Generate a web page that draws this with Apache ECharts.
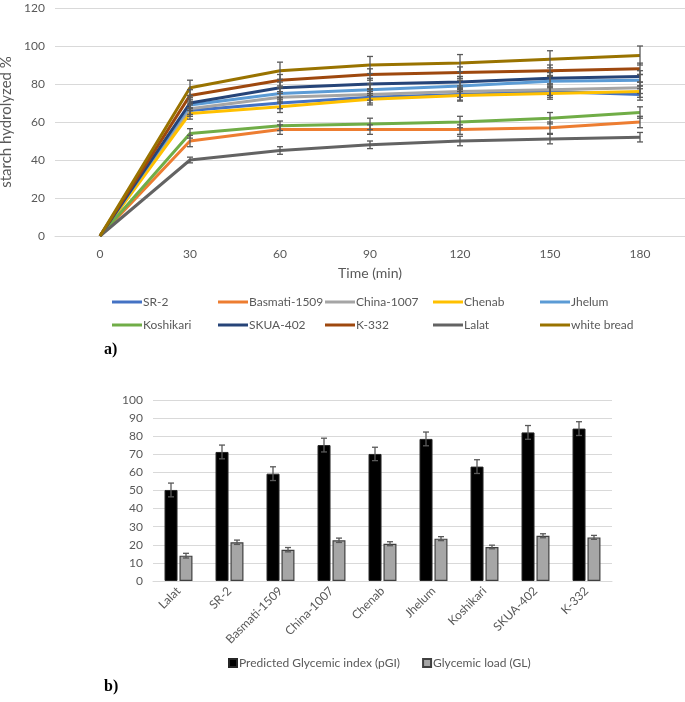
<!DOCTYPE html>
<html><head><meta charset="utf-8">
<script src="https://cdn.jsdelivr.net/npm/echarts@6/dist/echarts.min.js"></script>
<style>html,body{margin:0;padding:0;background:#fff}#c{width:685px;height:702px}</style>
</head><body><div id="c"></div><script>
// ---- Chart a) data ----
const timeLabels = ['0','30','60','90','120','150','180'];
const seriesNames = ['SR-2','Basmati-1509','China-1007','Chenab','Jhelum','Koshikari','SKUA-402','K-332','Lalat','white bread'];
const sr2        = [0,66,70,73,74.5,76,74.5];
const basmati    = [0,50,56,56,56,57,60];
const china      = [0,67,73,74.5,76,77,78];
const chenab     = [0,64.5,68,72,74,75,76];
const jhelum     = [0,69,75,77,79,81.5,82];
const koshikari  = [0,54,58,59,60,62,65];
const skua       = [0,70,78,80,81,83,84];
const k332       = [0,74,82,85,86,87,88];
const lalat      = [0,40,45,48,50,51,52];
const whiteBread = [0,78,87,90,91,93,95];
const sr2Err        = [0,3,3,3,3,3,3];
const basmatiErr    = [0,3,2.5,2.5,2.5,3,3];
const chinaErr      = [0,3,3,3,3,3,3];
const chenabErr     = [0,3,3,3,3,3,3];
const jhelumErr     = [0,3,3,3,3,3,3];
const koshikariErr  = [0,2.5,2.5,3,3,3,3];
const skuaErr       = [0,3,3,3,3,3,3];
const k332Err       = [0,3,3,3,3,3,3];
const lalatErr      = [0,1.5,2,2,2.5,2.5,2.5];
const whiteBreadErr = [0,4,4.5,4.5,4.5,4.5,5];

// ---- Chart b) data ----
const varieties = ['Lalat','SR-2','Basmati-1509','China-1007','Chenab','Jhelum','Koshikari','SKUA-402','K-332'];
const pGI    = [50.3,71.3,59.3,75.1,70.2,78.5,63.2,82.1,84.2];
const pGIErr = [3.8,3.8,3.8,3.8,3.7,3.8,3.8,3.8,3.8];
const GL     = [14,21.4,17.3,22.5,20.6,23.4,18.8,25,24.1];
const GLErr  = [1.3,1.2,1.2,1.2,1.1,1.1,1.0,1.1,1.1];
const barNames = ['Predicted Glycemic index (pGI)','Glycemic load (GL)'];

const lineValues = [sr2,basmati,china,chenab,jhelum,koshikari,skua,k332,lalat,whiteBread];
const lineErrs = [sr2Err,basmatiErr,chinaErr,chenabErr,jhelumErr,koshikariErr,skuaErr,k332Err,lalatErr,whiteBreadErr];
const colors = ['#4472C4','#ED7D31','#A5A5A5','#FFC000','#5B9BD5','#70AD47','#264478','#9E480E','#636363','#997300'];
const FONT = 'Lato';
const TXT = '#595959';

function errRender(offset, cap, color, width){
  return function(params, api){
    const lo = api.coord([api.value(0), api.value(1)]);
    const hi = api.coord([api.value(0), api.value(2)]);
    if (Math.abs(lo[1]-hi[1]) < 0.5) return {type:'group', children:[]};
    const cx = lo[0] + offset;
    const st = {stroke:color, lineWidth:width};
    return {type:'group', children:[
      {type:'line', shape:{x1:cx,y1:lo[1],x2:cx,y2:hi[1]}, style:st},
      {type:'line', shape:{x1:cx-cap,y1:lo[1],x2:cx+cap,y2:lo[1]}, style:st},
      {type:'line', shape:{x1:cx-cap,y1:hi[1],x2:cx+cap,y2:hi[1]}, style:st}
    ]};
  };
}

const series = [];
const legends = [];
const colX = [112,218,325,433,540];
seriesNames.forEach((n,i)=>{
  series.push({name:n, type:'line', xAxisIndex:0, yAxisIndex:0, data:lineValues[i],
    symbol:'none', lineStyle:{width:3, color:colors[i]}, itemStyle:{color:colors[i]}, z:2+i});
  legends.push({data:[n], left:colX[i%5], top: i<5 ? 296 : 319, itemWidth:30, itemHeight:3,
    icon:'rect', itemGap:0, padding:0, textStyle:{fontFamily:FONT, fontSize:12, color:TXT, padding:[0,0,0,-4]}});
});
seriesNames.forEach((n,i)=>{
  series.push({type:'custom', xAxisIndex:0, yAxisIndex:0, z:20,
    renderItem: errRender(0, 3, '#595959', 1.3),
    encode:{x:0, y:[1,2]},
    data: lineValues[i].map((v,j)=>[j, v-lineErrs[i][j], v+lineErrs[i][j]])});
});
series.push({name:barNames[0], type:'bar', xAxisIndex:1, yAxisIndex:1, data:pGI, barWidth:13, barGap:'15%',
  itemStyle:{color:'#000', borderColor:'#262626', borderWidth:1}});
series.push({name:barNames[1], type:'bar', xAxisIndex:1, yAxisIndex:1, data:GL, barWidth:13,
  itemStyle:{color:'#A6A6A6', borderColor:'#404040', borderWidth:1.2}});
series.push({type:'custom', xAxisIndex:1, yAxisIndex:1, z:20, renderItem: errRender(-7.5, 3, '#595959', 1.3),
  encode:{x:0, y:[1,2]}, data: pGI.map((v,j)=>[j, v-pGIErr[j], v+pGIErr[j]])});
series.push({type:'custom', xAxisIndex:1, yAxisIndex:1, z:20, renderItem: errRender(7.5, 3, '#595959', 1.3),
  encode:{x:0, y:[1,2]}, data: GL.map((v,j)=>[j, v-GLErr[j], v+GLErr[j]])});

legends.push({data:barNames, left:228, top:657, itemWidth:8, itemHeight:8, itemGap:22, icon:'rect', padding:0,
  textStyle:{fontFamily:FONT, fontSize:12, color:TXT, padding:[0,0,0,-3]}});

const chart = echarts.init(document.getElementById('c'), null, {renderer:'canvas'});
chart.setOption({
  animation:false,
  backgroundColor:'#fff',
  grid:[
    {left:55, top:8, width:630, height:228, outerBoundsMode:'none', containLabel:false},
    {left:153, top:400, width:459, height:181, outerBoundsMode:'none', containLabel:false}
  ],
  xAxis:[
    {type:'category', gridIndex:0, data:timeLabels, boundaryGap:true,
     name:'Time (min)', nameLocation:'middle', nameGap:30,
     nameTextStyle:{fontFamily:FONT, fontSize:14, color:TXT},
     axisTick:{show:false}, axisLine:{lineStyle:{color:'#d9d9d9'}},
     axisLabel:{fontFamily:FONT, fontSize:12, color:TXT, margin:12}},
    {type:'category', gridIndex:1, data:varieties, boundaryGap:true,
     axisTick:{show:false}, axisLine:{lineStyle:{color:'#d9d9d9'}},
     axisLabel:{fontFamily:FONT, fontSize:12, color:TXT, rotate:45, margin:8, interval:0}}
  ],
  yAxis:[
    {type:'value', gridIndex:0, min:0, max:120, interval:20,
     name:'starch hydrolyzed %', nameLocation:'middle', nameGap:38, nameRotate:90,
     nameTextStyle:{fontFamily:FONT, fontSize:15, color:TXT},
     axisLine:{show:false}, axisTick:{show:false},
     axisLabel:{fontFamily:FONT, fontSize:12, color:TXT, margin:10},
     splitLine:{lineStyle:{color:'#d9d9d9'}}},
    {type:'value', gridIndex:1, min:0, max:100, interval:10,
     axisLine:{show:false}, axisTick:{show:false},
     axisLabel:{fontFamily:FONT, fontSize:12, color:TXT, margin:10},
     splitLine:{lineStyle:{color:'#d9d9d9'}}}
  ],
  legend: legends,
  series: series,
  graphic:[
    {type:'text', left:104, top:342, style:{text:'a)', font:'bold 16px "Liberation Serif"', fill:'#000'}},
    {type:'text', left:104, top:679, style:{text:'b)', font:'bold 16px "Liberation Serif"', fill:'#000'}}
  ]
});
</script></body></html>
